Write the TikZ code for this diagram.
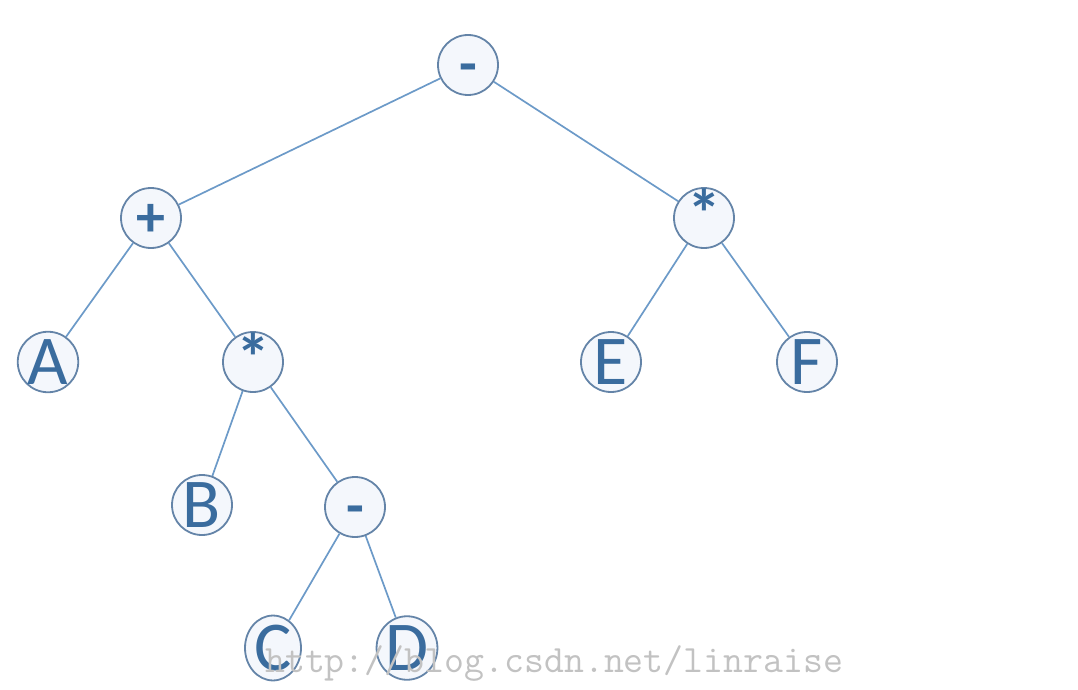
\documentclass[tikz,border=0pt]{standalone}
\usepackage{fontspec}
\setmainfont{Carlito}
\usetikzlibrary{shapes.geometric}
\definecolor{ring}{RGB}{100,132,168}
\definecolor{edgec}{RGB}{108,154,200}
\definecolor{txt}{RGB}{58,108,158}
\definecolor{fillc}{RGB}{244,247,252}
\tikzset{
  tnode/.style={circle,draw=ring,fill=fillc,line width=1.8pt,minimum size=60pt,inner sep=0pt,text=txt,font=\fontsize{70}{70}\selectfont},
  tnodeE/.style={tnode,ellipse,minimum width=56pt,minimum height=63pt},
  opnode/.style={tnode,font=\bfseries\fontsize{58}{58}\selectfont},
  starnode/.style={tnode,font=\bfseries\fontsize{68}{68}\selectfont,text height=38pt,text depth=0pt},
  link/.style={draw=edgec,line width=1.7pt},
}
\begin{document}
\begin{tikzpicture}[x=1pt,y=-1pt]
\useasboundingbox (0,0) rectangle (1078,690);
\node[opnode] (root) at (468,65) {\vphantom{A}-};
\node[opnode] (plus) at (151,218) {\vphantom{A}+};
\node[starnode] (mulR) at (704,218) {*};
\node[tnode] (A) at (48,362) {A};
\node[starnode] (mulL) at (253,362) {*};
\node[tnode] (E) at (611,362) {E};
\node[tnode] (F) at (807,362) {F};
\node[tnode] (B) at (202,505) {B};
\node[opnode] (minus) at (355,507) {\vphantom{A}-};
\node[tnodeE] (C) at (273,648) {C};
\node[tnodeE] (D) at (407,648) {D};
\draw[link] (root) -- (plus);
\draw[link] (root) -- (mulR);
\draw[link] (plus) -- (A);
\draw[link] (plus) -- (mulL);
\draw[link] (mulR) -- (E);
\draw[link] (mulR) -- (F);
\draw[link] (mulL) -- (B);
\draw[link] (mulL) -- (minus);
\draw[link] (minus) -- (C);
\draw[link] (minus) -- (D);
\node[anchor=base west,inner sep=0pt,text=black!24,font=\ttfamily\fontsize{38.7}{38.7}\selectfont] (wm) at (265,672) {http://blog.csdn.net/linraise};
\end{tikzpicture}
\end{document}
